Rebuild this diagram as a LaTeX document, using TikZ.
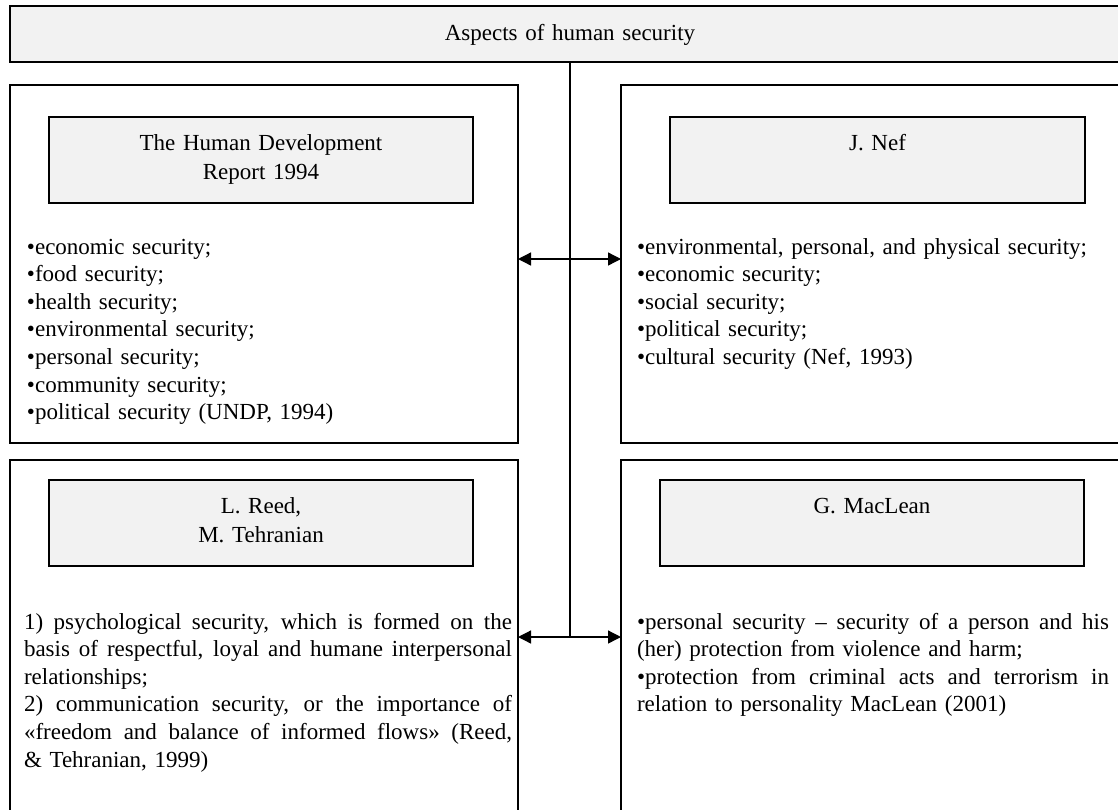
\documentclass[tikz,border=0pt]{standalone}
\usepackage{fontspec}
\setmainfont{Liberation Serif}
\usetikzlibrary{arrows.meta}
\definecolor{boxgray}{HTML}{F2F2F2}
\newcommand\justline[2]{\leavevmode\hbox to #1{\spaceskip=\fontdimen2\font plus 1fil\relax\xspaceskip=\spaceskip #2}}
\begin{document}
\begin{tikzpicture}[x=1pt,y=-1pt,
  frame/.style={draw=black, line width=1.3pt, inner sep=0pt, outer sep=0pt, anchor=north west},
  panel/.style={frame, fill=white},
  head/.style={frame, fill=boxgray},
  txt/.style={font=\fontsize{23}{27.6}\selectfont, inner sep=0pt, outer sep=0pt},
  link/.style={line width=1.3pt, {Triangle[length=13pt,width=13pt]}-{Triangle[length=13pt,width=13pt]}},
  stem/.style={line width=1.3pt}]
\useasboundingbox (0,0) rectangle (1118,809);

% outer boxes
\node[head, minimum width=1120pt, minimum height=56pt] (top) at (10,6) {};
\node[panel, minimum width=508pt, minimum height=358pt] (p1) at (10,85) {};
\node[panel, minimum width=508pt, minimum height=358pt] (p2) at (621,85) {};
\node[panel, minimum width=508pt, minimum height=370pt] (p3) at (10,460) {};
\node[panel, minimum width=508pt, minimum height=370pt] (p4) at (621,460) {};

% heading boxes
\node[head, minimum width=424pt, minimum height=86pt] (h1) at (49,117) {};
\node[head, minimum width=415pt, minimum height=86pt] (h2) at (670,117) {};
\node[head, minimum width=424pt, minimum height=86pt] (h3) at (49,480) {};
\node[head, minimum width=424pt, minimum height=86pt] (h4) at (660,480) {};

% texts
\node[txt, anchor=base, text width=1000pt, align=center] (topt) at (570,40) {Aspects of human security};
\node[txt, anchor=base, text width=420pt, align=center] (h1t) at (h1.north |- 0,150) {The Human Development\\[2pt]Report 1994};
\node[txt, anchor=base, text width=410pt, align=center] (h2t) at (h2.north |- 0,150) {J. Nef};
\node[txt, anchor=base, text width=420pt, align=center] (h3t) at (h3.north |- 0,513) {L. Reed,\\[2pt]M. Tehranian};
\node[txt, anchor=base, text width=420pt, align=center] (h4t) at (h4.north |- 0,513) {G. MacLean};

\node[txt, anchor=base west, text width=480pt, align=left] (l1) at (27,254)
  {•economic security;\\•food security;\\•health security;\\•environmental security;\\•personal security;\\•community security;\\•political security (UNDP, 1994)};
\node[txt, anchor=base west, text width=480pt, align=left] (l2) at (637,254)
  {•environmental, personal, and physical security;\\•economic security;\\•social security;\\•political security;\\•cultural security (Nef, 1993)};
\node[txt, anchor=base west, text width=488pt, align=left] (l3) at (24,629)
  {\justline{488pt}{1) psychological security, which is formed on the}\\
   \justline{488pt}{basis of respectful, loyal and humane interpersonal}\\
   relationships;\\
   \justline{488pt}{2) communication security, or the importance of}\\
   \justline{488pt}{«freedom and balance of informed flows» (Reed,}\\
   \& Tehranian, 1999)};
\node[txt, anchor=base west, text width=472pt, align=left] (l4) at (637,629)
  {\justline{472pt}{•personal security – security of a person and his}\\
   (her) protection from violence and harm;\\
   \justline{472pt}{•protection from criminal acts and terrorism in}\\
   relation to personality MacLean (2001)};

% connectors
\coordinate (j1) at (570,259);
\coordinate (j2) at (570,637);
\draw[stem] (top.south) -- (j2);
\draw[link] (p1.east |- j1) -- (p2.west |- j1);
\draw[link] (p3.east |- j2) -- (p4.west |- j2);
\end{tikzpicture}
\end{document}
